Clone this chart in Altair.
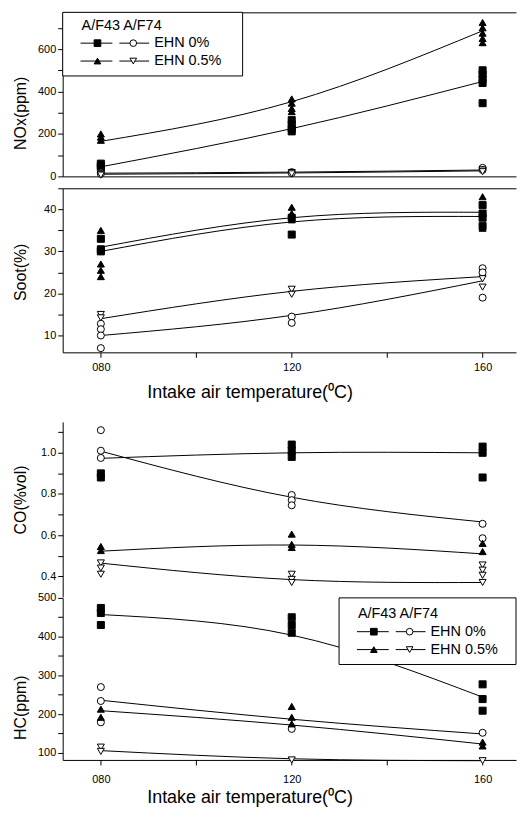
import json
import altair as alt
import pandas as pd

# ---------------- data ----------------
TEMPS = [80, 120, 160]
SERIES = ["A/F43 EHN 0%", "A/F74 EHN 0%", "A/F43 EHN 0.5%", "A/F74 EHN 0.5%"]
SHAPES = ["square", "circle", "triangle-up", "triangle-down"]
FILLS = ["black", "white", "black", "white"]

X_TICKS = [80, 100, 120, 140, 160]
X_TITLE = "Intake air temperature(\u2070C)"

NOX_POINTS = {
    "A/F43 EHN 0%": [[60, 50, 42], [265, 245, 225, 212], [500, 480, 460, 440, 345]],
    "A/F74 EHN 0%": [[18, 12], [20, 15], [40, 30]],
    "A/F43 EHN 0.5%": [[200, 185, 170], [365, 345, 320, 305], [725, 700, 675, 650, 630]],
    "A/F74 EHN 0.5%": [[10, 6], [18, 12], [30, 22]],
}
NOX_FIT = {
    "A/F43 EHN 0%": [45, 225, 447],
    "A/F74 EHN 0%": [15, 20, 30],
    "A/F43 EHN 0.5%": [165, 352, 686],
    "A/F74 EHN 0.5%": [10, 16, 26],
}
NOX_TICKS = [0, 100, 200, 300, 400, 500, 600, 700]
NOX_LABELS = ["0", "200", "400", "600"]

SOOT_POINTS = {
    "A/F43 EHN 0%": [[33, 30.5, 30], [38, 34], [41, 39, 38, 36]],
    "A/F74 EHN 0%": [[12.8, 11.5, 10, 7], [14.5, 13], [26, 25, 19]],
    "A/F43 EHN 0.5%": [[35, 27, 25.5, 24], [40.5, 39, 37.5], [43, 35.5]],
    "A/F74 EHN 0.5%": [[15, 14.2], [21, 19.8], [23.5, 21.5]],
}
SOOT_FIT = {
    "A/F43 EHN 0%": [31, 38, 39.3],
    "A/F74 EHN 0%": [10, 14.8, 23],
    "A/F43 EHN 0.5%": [30, 37, 38.3],
    "A/F74 EHN 0.5%": [14, 20.5, 24],
}
SOOT_TICKS = [10, 15, 20, 25, 30, 35, 40, 45]
SOOT_LABELS = ["10", "20", "30", "40"]

CO_POINTS = {
    "A/F43 EHN 0%": [[0.90, 0.88], [1.04, 1.01, 0.98], [1.03, 1.0, 0.88]],
    "A/F74 EHN 0%": [[1.11, 1.01, 0.975], [0.795, 0.77, 0.745], [0.655, 0.585]],
    "A/F43 EHN 0.5%": [[0.545, 0.525], [0.605, 0.555, 0.54], [0.56, 0.52]],
    "A/F74 EHN 0.5%": [[0.465, 0.44, 0.41], [0.41, 0.385, 0.37], [0.455, 0.43, 0.405, 0.37]],
}
CO_FIT = {
    "A/F43 EHN 0%": [0.973, 1.0, 1.0],
    "A/F74 EHN 0%": [1.008, 0.784, 0.664],
    "A/F43 EHN 0.5%": [0.522, 0.552, 0.509],
    "A/F74 EHN 0.5%": [0.464, 0.384, 0.37],
}
CO_TICKS = [0.4, 0.5, 0.6, 0.7, 0.8, 0.9, 1.0, 1.1]
CO_LABELS = ["0.4", "0.6", "0.8", "1.0"]

HC_POINTS = {
    "A/F43 EHN 0%": [[474, 461, 430], [450, 430, 410], [277, 239, 209]],
    "A/F74 EHN 0%": [[270, 234, 179], [162], [152]],
    "A/F43 EHN 0.5%": [[213, 192], [220, 192, 175], [128, 118]],
    "A/F74 EHN 0.5%": [[115, 104], [82], [80]],
}
HC_FIT = {
    "A/F43 EHN 0%": [457, 404, 244],
    "A/F74 EHN 0%": [236, 187, 149],
    "A/F43 EHN 0.5%": [209, 172, 123],
    "A/F74 EHN 0.5%": [106, 85, 80],
}
HC_TICKS = [100, 150, 200, 250, 300, 350, 400, 450, 500]
HC_LABELS = ["100", "200", "300", "400", "500"]

LEGEND_TITLE = "A/F43 A/F74"
LEGEND_ROWS = [("EHN 0%", 0, 1), ("EHN 0.5%", 2, 3)]

# ---------------- styling ----------------
FONT = "Liberation Sans"
XDOM = [72, 167]
W = 456


def long_points(pts):
    rows = []
    for s in SERIES:
        for t, vals in zip(TEMPS, pts[s]):
            rows += [{"T": t, "v": v, "s": s} for v in vals]
    return pd.DataFrame(rows)


def long_fit(fit):
    return pd.DataFrame([{"T": t, "v": v, "s": s}
                         for s in SERIES for t, v in zip(TEMPS, fit[s])])


def legend_layers(bx, by, w, h, head_dy, row_dy):
    one = alt.Data(values=[{"k": 0}])
    L = [alt.Chart(one).mark_rect(fill="white", stroke="black", strokeWidth=1).encode(
        x=alt.value(bx), x2=alt.value(bx + w), y=alt.value(by), y2=alt.value(by + h)),
        alt.Chart(one).mark_text(text=LEGEND_TITLE, align="left", baseline="middle",
                                 fontSize=14.5, font=FONT, color="black").encode(
            x=alt.value(bx + 19), y=alt.value(by + head_dy))]
    for i, (lab, a, b) in enumerate(LEGEND_ROWS):
        ry = by + row_dy + 18 * i
        L.append(alt.Chart(one).mark_rule(color="black", strokeWidth=1).encode(
            x=alt.value(bx + 18), x2=alt.value(bx + 50), y=alt.value(ry)))
        L.append(alt.Chart(one).mark_rule(color="black", strokeWidth=1).encode(
            x=alt.value(bx + 57), x2=alt.value(bx + 87), y=alt.value(ry)))
        L.append(alt.Chart(one).mark_point(shape=SHAPES[a], filled=True, fill=FILLS[a],
                                           stroke="black", strokeWidth=1, size=45, opacity=1).encode(
            x=alt.value(bx + 35), y=alt.value(ry)))
        L.append(alt.Chart(one).mark_point(shape=SHAPES[b], filled=True, fill=FILLS[b],
                                           stroke="black", strokeWidth=1, size=45, opacity=1).encode(
            x=alt.value(bx + 71), y=alt.value(ry)))
        L.append(alt.Chart(one).mark_text(text=lab, align="left", baseline="middle",
                                          fontSize=14.5, font=FONT, color="black").encode(
            x=alt.value(bx + 92), y=alt.value(ry)))
    return L


def x_bottom_axis(label_pad, title_pad):
    return alt.Axis(orient="bottom", values=X_TICKS,
                    labelExpr="datum.value == 80 ? '080' : ((datum.value == 120 || datum.value == 160) ? datum.label : '')",
                    tickSize=5, labelPadding=label_pad, labelFontSize=11,
                    title=X_TITLE, titleFontSize=18, titlePadding=title_pad,
                    titleX=188, titleAlign="center", grid=False)


def panel(pts, fit, ydom, yticks, ylabels, yfmt, ytitle, title_y, h, xaxis_bottom,
          legend=None, top_line=True):
    yaxis = alt.Axis(orient="left", values=yticks, format=yfmt,
                     labelExpr="indexof(%s, datum.label) >= 0 ? datum.label : ''" % json.dumps(ylabels),
                     title=ytitle, titleFontSize=16, labelFontSize=11, tickSize=5,
                     titleY=title_y, titleAlign="center",
                     minExtent=30, maxExtent=30, titlePadding=4, grid=False)
    y = alt.Y("v:Q", scale=alt.Scale(domain=ydom, nice=False, zero=False), axis=yaxis)
    xs = alt.Scale(domain=XDOM, nice=False, zero=False)
    x_bot = alt.X("T:Q", scale=xs, axis=xaxis_bottom)
    if top_line:
        x_top = alt.X("T:Q", scale=xs, axis=alt.Axis(orient="top", labels=False, ticks=False,
                                                     title=None, grid=False))
    else:
        x_top = x_bot
    lines = alt.Chart(long_fit(fit)).mark_line(interpolate="natural", color="black",
                                               strokeWidth=1).encode(x=x_top, y=y, detail="s:N")
    points = alt.Chart(long_points(pts)).mark_point(filled=True, stroke="black", strokeWidth=1,
                                                    size=50, opacity=1).encode(
        x=x_bot, y=y,
        shape=alt.Shape("s:N", scale=alt.Scale(domain=SERIES, range=SHAPES), legend=None),
        fill=alt.Fill("s:N", scale=alt.Scale(domain=SERIES, range=FILLS), legend=None))
    layers = [lines, points] + (legend or [])
    return alt.layer(*layers).properties(width=W, height=h)


nox = panel(NOX_POINTS, NOX_FIT, [0, 773], NOX_TICKS, NOX_LABELS, "d", "NOx(ppm)", 101, 165,
            alt.Axis(orient="bottom", labels=False, ticks=False, title=None, grid=False),
            legend_layers(0, 0, 181, 64, 14, 31))
soot = panel(SOOT_POINTS, SOOT_FIT, [6, 45], SOOT_TICKS, SOOT_LABELS, "d", "Soot(%)", 84, 165,
             x_bottom_axis(4, 11))
co = panel(CO_POINTS, CO_FIT, [0.30, 1.15], CO_TICKS, CO_LABELS, ".1f", "CO(%vol)", 78, 176, None)
hc = panel(HC_POINTS, HC_FIT, [82, 500], HC_TICKS, HC_LABELS, "d", "HC(ppm)", 110, 163,
           x_bottom_axis(9, 4), legend_layers(278, 0, 178, 67, 16, 34), top_line=False)

top = alt.vconcat(nox, soot, spacing=12, bounds="flush")
bottom = alt.vconcat(co, hc, spacing=1, bounds="flush")

chart = alt.vconcat(top, bottom, spacing=21).properties(
    padding={"left": 5, "top": 1, "right": 0, "bottom": 0}, background="white"
).configure_view(stroke="transparent", strokeWidth=0).configure_axis(
    labelFont=FONT, titleFont=FONT, labelColor="black", titleColor="black",
    domainColor="black", tickColor="black", titleFontWeight="normal", grid=False
).configure_text(font=FONT)

chart.save("out.html", embed_options={"renderer": "svg", "actions": False})
